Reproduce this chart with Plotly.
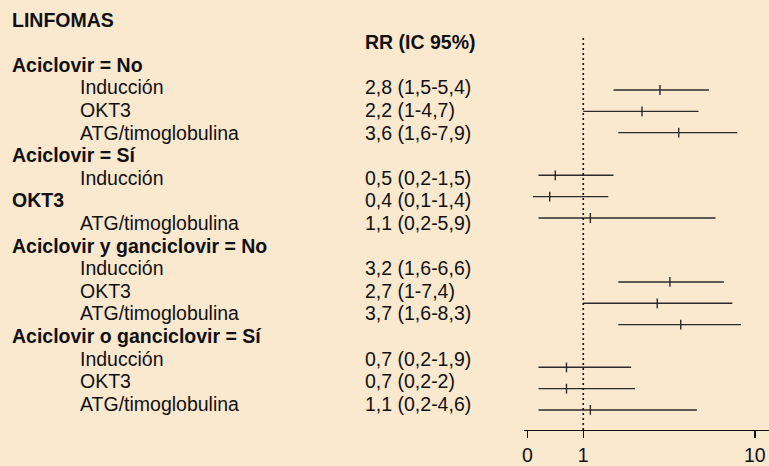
import plotly.graph_objects as go
import math

# ---------------- data ----------------
title = "LINFOMAS"
col_header = "RR (IC 95%)"
group_labels = ["Aciclovir = No", "Aciclovir = Sí",
                "Aciclovir y ganciclovir = No", "Aciclovir o ganciclovir = Sí"]
item_labels = [
    ["Inducción", "OKT3", "ATG/timoglobulina"],
    ["Inducción", "OKT3", "ATG/timoglobulina"],
    ["Inducción", "OKT3", "ATG/timoglobulina"],
    ["Inducción", "OKT3", "ATG/timoglobulina"],
]
rr = [2.8, 2.2, 3.6, 0.5, 0.4, 1.1, 3.2, 2.7, 3.7, 0.7, 0.7, 1.1]
ci_lo = [1.5, 1, 1.6, 0.2, 0.1, 0.2, 1.6, 1, 1.6, 0.2, 0.2, 0.2]
ci_hi = [5.4, 4.7, 7.9, 1.5, 1.4, 5.9, 6.6, 7.4, 8.3, 1.9, 2, 4.6]
tick_values = [0, 1, 10]
tick_labels = ["0", "1", "10"]

# ---------------- scale: linear below 1, log10 above 1 ----------------
LIN_K = 0.326  # decades per unit below 1


def f(x):
    return math.log10(x) if x >= 1 else (x - 1) * LIN_K


def fmt(v):
    return ("%g" % v).replace(".", ",")


# ---------------- layout constants (pixels) ----------------
W, H = 769, 466
BG = "#FAE8CF"
INK = "#2b2b2b"
FONT = "Liberation Sans, Arial, Helvetica, sans-serif"
FS = 19.5
row0_px, row_pitch = 19.5, 22.6
x_group, x_item, x_val = 8, 76, 362
plot_left, axis_px, top_px = 523, 430, 37
px_per_unit = 172
zero_px = 526.7
plot_row0_px, plot_pitch = 90, 21.33
plot_gap = [0, 1, 2, 1]  # blank plot rows before each group


def px_x(px):
    return px / W


def px_y(px):
    return 1 - px / H


annotations = []


def add_text(txt, xpx, ypx, bold=False):
    annotations.append(dict(
        text=("<b>%s</b>" % txt) if bold else txt,
        x=px_x(xpx), y=px_y(ypx), xref="paper", yref="paper",
        xanchor="left", yanchor="middle", showarrow=False,
        font=dict(family=FONT, size=FS, color="#111111")))


add_text(title, x_group, row0_px, bold=True)
add_text(col_header, x_val, row0_px + row_pitch, bold=True)

text_row = 2
plot_row = -1
plot_ys = []
k = 0
for g, (glab, items) in enumerate(zip(group_labels, item_labels)):
    add_text(glab, x_group, row0_px + row_pitch * text_row, bold=True)
    text_row += 1
    plot_row += plot_gap[g]
    for j, lab in enumerate(items):
        # in the reference, the second row of group 2 is printed as a bold header
        if g == 1 and j == 1:
            add_text(lab, x_group, row0_px + row_pitch * text_row, bold=True)
        else:
            add_text(lab, x_item, row0_px + row_pitch * text_row)
        add_text("%s (%s-%s)" % (fmt(rr[k]), fmt(ci_lo[k]), fmt(ci_hi[k])),
                 x_val, row0_px + row_pitch * text_row)
        text_row += 1
        plot_row += 1
        plot_ys.append(plot_row)
        k += 1

xs = [f(v) for v in rr]
err_plus = [f(h) - f(v) for h, v in zip(ci_hi, rr)]
err_minus = [f(v) - f(l) for l, v in zip(ci_lo, rr)]

fig = go.Figure()
fig.add_trace(go.Scatter(
    x=xs, y=plot_ys, mode="markers",
    marker=dict(symbol="line-ns", size=7, line=dict(width=1.4, color=INK), color=INK),
    error_x=dict(type="data", symmetric=False, array=err_plus, arrayminus=err_minus,
                 width=0, thickness=1.4, color=INK),
    hoverinfo="skip", showlegend=False))

# reference line at RR = 1
fig.add_shape(type="line", xref="x", yref="y domain", x0=f(1), x1=f(1), y0=0, y1=1,
              line=dict(color="#111111", width=1.6, dash="2px,3px"))

x_lo = f(0) - (zero_px - plot_left) / px_per_unit
x_hi = x_lo + (W - plot_left) / px_per_unit
y_bottom = (axis_px - plot_row0_px) / plot_pitch
y_top = (top_px - plot_row0_px) / plot_pitch

fig.update_layout(
    width=W, height=H, margin=dict(l=0, r=0, t=0, b=0),
    paper_bgcolor=BG, plot_bgcolor=BG,
    annotations=annotations,
    xaxis=dict(domain=[plot_left / W, 1], range=[x_lo, x_hi],
               tickvals=[f(v) for v in tick_values], ticktext=tick_labels,
               showgrid=False, zeroline=False, showline=True, linecolor="#111111",
               linewidth=1.4, ticks="outside", ticklen=7, tickwidth=1.4,
               tickcolor="#111111",
               tickfont=dict(family=FONT, size=FS, color="#111111")),
    yaxis=dict(domain=[1 - axis_px / H, 1 - top_px / H], range=[y_bottom, y_top],
               visible=False, showgrid=False, zeroline=False),
)

fig.write_html("out.html",
               config={"displayModeBar": False, "staticPlot": True},
               post_script="document.body.style.margin='0';"
                           "document.body.style.background='%s';" % BG)
